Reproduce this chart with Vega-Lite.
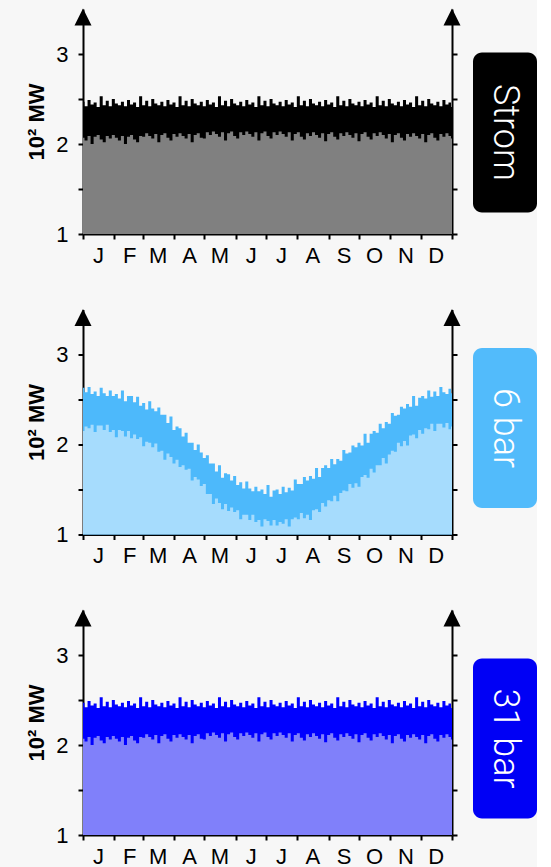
{
  "$schema": "https://vega.github.io/schema/vega-lite/v6.json",
  "background": "#f7f7f7",
  "padding": {"left": 25, "top": 8, "right": 0, "bottom": 0},
  "config": {
    "view": {"stroke": null},
    "font": "Liberation Sans",
    "axis": {"labelOverlap": false, "tickSize": 5, "tickWidth": 2, "tickColor": "#000", "domainColor": "#000", "domainWidth": 2, "labelColor": "#000", "labelFontSize": 22, "grid": false, "zindex": 1, "titleColor": "#000"},
    "axisX": {"labelOverlap": false, "labelPadding": 6, "labelOffset": 15, "labelAlign": "center", "labelBound": false, "labelFlush": false},
    "axisLeft": {"labelPadding": 10, "titlePadding": 7, "titleFontSize": 22, "titleFontWeight": "bold"}
  },
  "datasets": {
    "flat": [
      {"d":0,"lo":2.07,"hi":2.47},{"d":3,"lo":2.04,"hi":2.42},{"d":6,"lo":2.09,"hi":2.49},{"d":9,"lo":2.00,"hi":2.44},{"d":12,"lo":2.08,"hi":2.46},{"d":15,"lo":2.10,"hi":2.41},{"d":18,"lo":2.05,"hi":2.53},{"d":21,"lo":2.02,"hi":2.43},{"d":24,"lo":2.09,"hi":2.48},{"d":27,"lo":2.06,"hi":2.42},{"d":30,"lo":2.10,"hi":2.50},{"d":33,"lo":2.07,"hi":2.45},{"d":36,"lo":2.04,"hi":2.43},{"d":39,"lo":2.09,"hi":2.47},{"d":42,"lo":2.00,"hi":2.42},{"d":45,"lo":2.08,"hi":2.49},{"d":48,"lo":2.10,"hi":2.44},{"d":51,"lo":2.05,"hi":2.46},{"d":54,"lo":2.02,"hi":2.41},{"d":57,"lo":2.09,"hi":2.53},{"d":60,"lo":2.08,"hi":2.43},{"d":63,"lo":2.12,"hi":2.48},{"d":66,"lo":2.09,"hi":2.42},{"d":69,"lo":2.06,"hi":2.50},{"d":72,"lo":2.11,"hi":2.45},{"d":75,"lo":2.02,"hi":2.43},{"d":78,"lo":2.10,"hi":2.47},{"d":81,"lo":2.12,"hi":2.42},{"d":84,"lo":2.07,"hi":2.49},{"d":87,"lo":2.04,"hi":2.44},{"d":90,"lo":2.11,"hi":2.46},{"d":93,"lo":2.08,"hi":2.41},{"d":96,"lo":2.12,"hi":2.53},{"d":99,"lo":2.09,"hi":2.43},{"d":102,"lo":2.06,"hi":2.48},{"d":105,"lo":2.11,"hi":2.42},{"d":108,"lo":2.02,"hi":2.50},{"d":111,"lo":2.10,"hi":2.45},{"d":114,"lo":2.12,"hi":2.43},{"d":117,"lo":2.07,"hi":2.47},{"d":120,"lo":2.06,"hi":2.42},{"d":123,"lo":2.13,"hi":2.49},{"d":126,"lo":2.10,"hi":2.44},{"d":129,"lo":2.14,"hi":2.46},{"d":132,"lo":2.11,"hi":2.41},{"d":135,"lo":2.08,"hi":2.53},{"d":138,"lo":2.13,"hi":2.43},{"d":141,"lo":2.04,"hi":2.48},{"d":144,"lo":2.12,"hi":2.42},{"d":147,"lo":2.14,"hi":2.50},{"d":150,"lo":2.09,"hi":2.45},{"d":153,"lo":2.06,"hi":2.43},{"d":156,"lo":2.13,"hi":2.47},{"d":159,"lo":2.10,"hi":2.42},{"d":162,"lo":2.14,"hi":2.49},{"d":165,"lo":2.11,"hi":2.44},{"d":168,"lo":2.08,"hi":2.46},{"d":171,"lo":2.13,"hi":2.41},{"d":174,"lo":2.04,"hi":2.53},{"d":177,"lo":2.12,"hi":2.43},{"d":180,"lo":2.14,"hi":2.48},{"d":183,"lo":2.09,"hi":2.42},{"d":186,"lo":2.06,"hi":2.50},{"d":189,"lo":2.13,"hi":2.45},{"d":192,"lo":2.10,"hi":2.43},{"d":195,"lo":2.14,"hi":2.47},{"d":198,"lo":2.11,"hi":2.42},{"d":201,"lo":2.08,"hi":2.49},{"d":204,"lo":2.13,"hi":2.44},{"d":207,"lo":2.04,"hi":2.46},{"d":210,"lo":2.11,"hi":2.41},{"d":213,"lo":2.13,"hi":2.53},{"d":216,"lo":2.08,"hi":2.43},{"d":219,"lo":2.05,"hi":2.48},{"d":222,"lo":2.12,"hi":2.42},{"d":225,"lo":2.09,"hi":2.50},{"d":228,"lo":2.13,"hi":2.45},{"d":231,"lo":2.10,"hi":2.43},{"d":234,"lo":2.07,"hi":2.47},{"d":237,"lo":2.12,"hi":2.42},{"d":240,"lo":2.03,"hi":2.49},{"d":243,"lo":2.11,"hi":2.44},{"d":246,"lo":2.13,"hi":2.46},{"d":249,"lo":2.08,"hi":2.41},{"d":252,"lo":2.05,"hi":2.53},{"d":255,"lo":2.12,"hi":2.43},{"d":258,"lo":2.09,"hi":2.48},{"d":261,"lo":2.13,"hi":2.42},{"d":264,"lo":2.10,"hi":2.50},{"d":267,"lo":2.07,"hi":2.45},{"d":270,"lo":2.12,"hi":2.43},{"d":273,"lo":2.03,"hi":2.47},{"d":276,"lo":2.11,"hi":2.42},{"d":279,"lo":2.13,"hi":2.49},{"d":282,"lo":2.08,"hi":2.44},{"d":285,"lo":2.05,"hi":2.46},{"d":288,"lo":2.12,"hi":2.41},{"d":291,"lo":2.09,"hi":2.53},{"d":294,"lo":2.13,"hi":2.43},{"d":297,"lo":2.10,"hi":2.48},{"d":300,"lo":2.06,"hi":2.42},{"d":303,"lo":2.11,"hi":2.50},{"d":306,"lo":2.02,"hi":2.45},{"d":309,"lo":2.10,"hi":2.43},{"d":312,"lo":2.12,"hi":2.47},{"d":315,"lo":2.07,"hi":2.42},{"d":318,"lo":2.04,"hi":2.49},{"d":321,"lo":2.11,"hi":2.44},{"d":324,"lo":2.08,"hi":2.46},{"d":327,"lo":2.12,"hi":2.41},{"d":330,"lo":2.09,"hi":2.53},{"d":333,"lo":2.06,"hi":2.43},{"d":336,"lo":2.11,"hi":2.48},{"d":339,"lo":2.02,"hi":2.42},{"d":342,"lo":2.10,"hi":2.50},{"d":345,"lo":2.12,"hi":2.45},{"d":348,"lo":2.07,"hi":2.43},{"d":351,"lo":2.04,"hi":2.47},{"d":354,"lo":2.11,"hi":2.42},{"d":357,"lo":2.08,"hi":2.49},{"d":360,"lo":2.12,"hi":2.44},{"d":363,"lo":2.09,"hi":2.46},{"d":365,"lo":2.06,"hi":2.41}
    ],
    "seasonal": [
      {"d":0,"lo":2.15,"hi":2.63},{"d":3,"lo":2.20,"hi":2.58},{"d":6,"lo":2.18,"hi":2.64},{"d":9,"lo":2.22,"hi":2.56},{"d":12,"lo":2.14,"hi":2.59},{"d":15,"lo":2.21,"hi":2.54},{"d":18,"lo":2.21,"hi":2.63},{"d":21,"lo":2.16,"hi":2.57},{"d":24,"lo":2.22,"hi":2.54},{"d":27,"lo":2.14,"hi":2.60},{"d":30,"lo":2.16,"hi":2.54},{"d":33,"lo":2.08,"hi":2.56},{"d":36,"lo":2.16,"hi":2.51},{"d":39,"lo":2.15,"hi":2.60},{"d":42,"lo":2.09,"hi":2.48},{"d":45,"lo":2.15,"hi":2.54},{"d":48,"lo":2.07,"hi":2.54},{"d":51,"lo":2.11,"hi":2.47},{"d":54,"lo":2.06,"hi":2.53},{"d":57,"lo":2.08,"hi":2.43},{"d":60,"lo":1.98,"hi":2.46},{"d":63,"lo":2.03,"hi":2.39},{"d":66,"lo":2.02,"hi":2.48},{"d":69,"lo":1.97,"hi":2.40},{"d":72,"lo":2.01,"hi":2.37},{"d":75,"lo":1.92,"hi":2.41},{"d":78,"lo":1.93,"hi":2.33},{"d":81,"lo":1.83,"hi":2.33},{"d":84,"lo":1.90,"hi":2.24},{"d":87,"lo":1.86,"hi":2.31},{"d":90,"lo":1.79,"hi":2.16},{"d":93,"lo":1.83,"hi":2.20},{"d":96,"lo":1.75,"hi":2.18},{"d":99,"lo":1.77,"hi":2.09},{"d":102,"lo":1.72,"hi":2.13},{"d":105,"lo":1.73,"hi":2.02},{"d":108,"lo":1.60,"hi":2.02},{"d":111,"lo":1.64,"hi":1.94},{"d":114,"lo":1.61,"hi":2.00},{"d":117,"lo":1.54,"hi":1.91},{"d":120,"lo":1.56,"hi":1.85},{"d":123,"lo":1.45,"hi":1.88},{"d":126,"lo":1.45,"hi":1.79},{"d":129,"lo":1.34,"hi":1.79},{"d":132,"lo":1.40,"hi":1.70},{"d":135,"lo":1.35,"hi":1.77},{"d":138,"lo":1.28,"hi":1.63},{"d":141,"lo":1.34,"hi":1.68},{"d":144,"lo":1.26,"hi":1.67},{"d":147,"lo":1.30,"hi":1.60},{"d":150,"lo":1.25,"hi":1.65},{"d":153,"lo":1.27,"hi":1.55},{"d":156,"lo":1.17,"hi":1.58},{"d":159,"lo":1.22,"hi":1.51},{"d":162,"lo":1.22,"hi":1.59},{"d":165,"lo":1.16,"hi":1.51},{"d":168,"lo":1.22,"hi":1.48},{"d":171,"lo":1.14,"hi":1.53},{"d":174,"lo":1.16,"hi":1.48},{"d":177,"lo":1.09,"hi":1.50},{"d":180,"lo":1.17,"hi":1.45},{"d":183,"lo":1.15,"hi":1.55},{"d":186,"lo":1.10,"hi":1.42},{"d":189,"lo":1.16,"hi":1.49},{"d":192,"lo":1.10,"hi":1.50},{"d":195,"lo":1.14,"hi":1.45},{"d":198,"lo":1.12,"hi":1.53},{"d":201,"lo":1.17,"hi":1.47},{"d":204,"lo":1.09,"hi":1.52},{"d":207,"lo":1.17,"hi":1.49},{"d":210,"lo":1.19,"hi":1.61},{"d":213,"lo":1.17,"hi":1.56},{"d":216,"lo":1.24,"hi":1.56},{"d":219,"lo":1.18,"hi":1.64},{"d":222,"lo":1.22,"hi":1.60},{"d":225,"lo":1.16,"hi":1.65},{"d":228,"lo":1.27,"hi":1.62},{"d":231,"lo":1.28,"hi":1.74},{"d":234,"lo":1.25,"hi":1.64},{"d":237,"lo":1.35,"hi":1.74},{"d":240,"lo":1.31,"hi":1.77},{"d":243,"lo":1.38,"hi":1.74},{"d":246,"lo":1.37,"hi":1.84},{"d":249,"lo":1.43,"hi":1.78},{"d":252,"lo":1.37,"hi":1.84},{"d":255,"lo":1.46,"hi":1.82},{"d":258,"lo":1.49,"hi":1.94},{"d":261,"lo":1.48,"hi":1.90},{"d":264,"lo":1.56,"hi":1.91},{"d":267,"lo":1.52,"hi":1.99},{"d":270,"lo":1.57,"hi":1.97},{"d":273,"lo":1.53,"hi":2.02},{"d":276,"lo":1.64,"hi":1.99},{"d":279,"lo":1.66,"hi":2.12},{"d":282,"lo":1.63,"hi":2.02},{"d":285,"lo":1.73,"hi":2.12},{"d":288,"lo":1.69,"hi":2.15},{"d":291,"lo":1.77,"hi":2.13},{"d":294,"lo":1.77,"hi":2.23},{"d":297,"lo":1.85,"hi":2.18},{"d":300,"lo":1.79,"hi":2.25},{"d":303,"lo":1.89,"hi":2.23},{"d":306,"lo":1.93,"hi":2.35},{"d":309,"lo":1.92,"hi":2.32},{"d":312,"lo":2.02,"hi":2.33},{"d":315,"lo":1.98,"hi":2.42},{"d":318,"lo":2.04,"hi":2.40},{"d":321,"lo":1.99,"hi":2.45},{"d":324,"lo":2.10,"hi":2.42},{"d":327,"lo":2.11,"hi":2.54},{"d":330,"lo":2.07,"hi":2.43},{"d":333,"lo":2.16,"hi":2.52},{"d":336,"lo":2.12,"hi":2.54},{"d":339,"lo":2.18,"hi":2.51},{"d":342,"lo":2.17,"hi":2.60},{"d":345,"lo":2.23,"hi":2.53},{"d":348,"lo":2.15,"hi":2.59},{"d":351,"lo":2.23,"hi":2.54},{"d":354,"lo":2.23,"hi":2.64},{"d":357,"lo":2.19,"hi":2.58},{"d":360,"lo":2.24,"hi":2.56},{"d":363,"lo":2.17,"hi":2.62},{"d":365,"lo":2.20,"hi":2.57}
    ],
    "arrows": [{"d":0,"v":3.41},{"d":365,"v":3.41}]
  },
  "spacing": 42.5,
  "vconcat": [
    {
      "hconcat": [
        {
          "width": 369, "height": 225,
          "data": {"name": "flat"},
          "layer": [
            {"mark": {"type": "area", "color": "#000000", "interpolate": "step"},
             "encoding": {
               "x": {"field": "d", "type": "quantitative", "scale": {"domain": [0, 365], "nice": false, "zero": false},
                     "axis": {"values": [0,31,59,90,120,151,181,212,243,273,304,334,365], "labelExpr": "['J','F','M','A','M','J','J','A','S','O','N','D',''][indexof([0,31,59,90,120,151,181,212,243,273,304,334,365], datum.value)]", "labelOverlap": false, "title": null}},
               "y": {"field": "hi", "type": "quantitative", "scale": {"domain": [1, 3.5], "nice": false, "zero": false},
                     "axis": {"orient": "left", "values": [1,1.5,2,2.5,3], "labelExpr": "datum.value % 1 === 0 ? format(datum.value, 'd') : ''", "title": "10² MW", "titleFontSize": 22, "titleFontWeight": "bold"}},
               "y2": {"datum": 1}
             }},
            {"mark": {"type": "area", "color": "#808080", "interpolate": "step"},
             "encoding": {
               "x": {"field": "d", "type": "quantitative",
                     "axis": {"values": [0,31,59,90,120,151,181,212,243,273,304,334,365], "labelExpr": "['J','F','M','A','M','J','J','A','S','O','N','D',''][indexof([0,31,59,90,120,151,181,212,243,273,304,334,365], datum.value)]", "labelOverlap": false, "title": null}},
               "y": {"field": "lo", "type": "quantitative", "axis": {"orient": "right", "values": [1,1.5,2,2.5,3], "labels": false, "title": null}},
               "y2": {"datum": 1}
             }},
            {"data": {"name": "arrows"},
             "mark": {"type": "point", "shape": "M0,-1L1,1L-1,1Z", "filled": true, "color": "#000000", "opacity": 1, "size": 290},
             "encoding": {
               "x": {"field": "d", "type": "quantitative",
                     "axis": {"values": [0,31,59,90,120,151,181,212,243,273,304,334,365], "labelExpr": "['J','F','M','A','M','J','J','A','S','O','N','D',''][indexof([0,31,59,90,120,151,181,212,243,273,304,334,365], datum.value)]", "labelOverlap": false, "title": null}},
               "y": {"field": "v", "type": "quantitative", "axis": null}
             }}
          ],
          "resolve": {"axis": {"y": "independent"}}
        },
        {
          "width": 64, "height": 160,
          "title": {"text": " ", "orient": "bottom", "offset": 9, "fontSize": 1},
          "data": {"values": [{"label": "Strom"}]},
          "layer": [
            {"mark": {"type": "rect", "color": "#000000", "cornerRadius": 9}, "encoding": {}},
            {"mark": {"type": "text", "angle": 90, "color": "#ffffff", "fontSize": 36, "font": "Roboto", "fontWeight": 300, "align": "center", "baseline": "middle"}, "encoding": {"text": {"field": "label"}}}
          ]
        }
      ],
      "spacing": 6,
      "center": true
    },
    {
      "hconcat": [
        {
          "width": 369, "height": 225,
          "data": {"name": "seasonal"},
          "layer": [
            {"mark": {"type": "area", "color": "#4db9fb", "interpolate": "step"},
             "encoding": {
               "x": {"field": "d", "type": "quantitative", "scale": {"domain": [0, 365], "nice": false, "zero": false},
                     "axis": {"values": [0,31,59,90,120,151,181,212,243,273,304,334,365], "labelExpr": "['J','F','M','A','M','J','J','A','S','O','N','D',''][indexof([0,31,59,90,120,151,181,212,243,273,304,334,365], datum.value)]", "labelOverlap": false, "title": null}},
               "y": {"field": "hi", "type": "quantitative", "scale": {"domain": [1, 3.5], "nice": false, "zero": false},
                     "axis": {"orient": "left", "values": [1,1.5,2,2.5,3], "labelExpr": "datum.value % 1 === 0 ? format(datum.value, 'd') : ''", "title": "10² MW", "titleFontSize": 22, "titleFontWeight": "bold"}},
               "y2": {"datum": 1}
             }},
            {"mark": {"type": "area", "color": "#a6dcfd", "interpolate": "step"},
             "encoding": {
               "x": {"field": "d", "type": "quantitative",
                     "axis": {"values": [0,31,59,90,120,151,181,212,243,273,304,334,365], "labelExpr": "['J','F','M','A','M','J','J','A','S','O','N','D',''][indexof([0,31,59,90,120,151,181,212,243,273,304,334,365], datum.value)]", "labelOverlap": false, "title": null}},
               "y": {"field": "lo", "type": "quantitative", "axis": {"orient": "right", "values": [1,1.5,2,2.5,3], "labels": false, "title": null}},
               "y2": {"datum": 1}
             }},
            {"data": {"name": "arrows"},
             "mark": {"type": "point", "shape": "M0,-1L1,1L-1,1Z", "filled": true, "color": "#000000", "opacity": 1, "size": 290},
             "encoding": {
               "x": {"field": "d", "type": "quantitative",
                     "axis": {"values": [0,31,59,90,120,151,181,212,243,273,304,334,365], "labelExpr": "['J','F','M','A','M','J','J','A','S','O','N','D',''][indexof([0,31,59,90,120,151,181,212,243,273,304,334,365], datum.value)]", "labelOverlap": false, "title": null}},
               "y": {"field": "v", "type": "quantitative", "axis": null}
             }}
          ],
          "resolve": {"axis": {"y": "independent"}}
        },
        {
          "width": 64, "height": 160,
          "title": {"text": " ", "orient": "bottom", "offset": 19, "fontSize": 1},
          "data": {"values": [{"label": "6 bar"}]},
          "layer": [
            {"mark": {"type": "rect", "color": "#52bbfb", "cornerRadius": 9}, "encoding": {}},
            {"mark": {"type": "text", "angle": 90, "color": "#ffffff", "fontSize": 36, "font": "Roboto", "fontWeight": 300, "align": "center", "baseline": "middle"}, "encoding": {"text": {"field": "label"}}}
          ]
        }
      ],
      "spacing": 6,
      "center": true
    },
    {
      "hconcat": [
        {
          "width": 369, "height": 225,
          "data": {"name": "flat"},
          "layer": [
            {"mark": {"type": "area", "color": "#0000ff", "interpolate": "step"},
             "encoding": {
               "x": {"field": "d", "type": "quantitative", "scale": {"domain": [0, 365], "nice": false, "zero": false},
                     "axis": {"values": [0,31,59,90,120,151,181,212,243,273,304,334,365], "labelExpr": "['J','F','M','A','M','J','J','A','S','O','N','D',''][indexof([0,31,59,90,120,151,181,212,243,273,304,334,365], datum.value)]", "labelOverlap": false, "title": null}},
               "y": {"field": "hi", "type": "quantitative", "scale": {"domain": [1, 3.5], "nice": false, "zero": false},
                     "axis": {"orient": "left", "values": [1,1.5,2,2.5,3], "labelExpr": "datum.value % 1 === 0 ? format(datum.value, 'd') : ''", "title": "10² MW", "titleFontSize": 22, "titleFontWeight": "bold"}},
               "y2": {"datum": 1}
             }},
            {"mark": {"type": "area", "color": "#8080fa", "interpolate": "step"},
             "encoding": {
               "x": {"field": "d", "type": "quantitative",
                     "axis": {"values": [0,31,59,90,120,151,181,212,243,273,304,334,365], "labelExpr": "['J','F','M','A','M','J','J','A','S','O','N','D',''][indexof([0,31,59,90,120,151,181,212,243,273,304,334,365], datum.value)]", "labelOverlap": false, "title": null}},
               "y": {"field": "lo", "type": "quantitative", "axis": {"orient": "right", "values": [1,1.5,2,2.5,3], "labels": false, "title": null}},
               "y2": {"datum": 1}
             }},
            {"data": {"name": "arrows"},
             "mark": {"type": "point", "shape": "M0,-1L1,1L-1,1Z", "filled": true, "color": "#000000", "opacity": 1, "size": 290},
             "encoding": {
               "x": {"field": "d", "type": "quantitative",
                     "axis": {"values": [0,31,59,90,120,151,181,212,243,273,304,334,365], "labelExpr": "['J','F','M','A','M','J','J','A','S','O','N','D',''][indexof([0,31,59,90,120,151,181,212,243,273,304,334,365], datum.value)]", "labelOverlap": false, "title": null}},
               "y": {"field": "v", "type": "quantitative", "axis": null}
             }}
          ],
          "resolve": {"axis": {"y": "independent"}}
        },
        {
          "width": 64, "height": 160,
          "data": {"values": [{"label": "31 bar"}]},
          "layer": [
            {"mark": {"type": "rect", "color": "#0000f5", "cornerRadius": 9}, "encoding": {}},
            {"mark": {"type": "text", "angle": 90, "color": "#ffffff", "fontSize": 36, "font": "Roboto", "fontWeight": 300, "align": "center", "baseline": "middle"}, "encoding": {"text": {"field": "label"}}}
          ]
        }
      ],
      "spacing": 6,
      "center": true
    }
  ]
}
